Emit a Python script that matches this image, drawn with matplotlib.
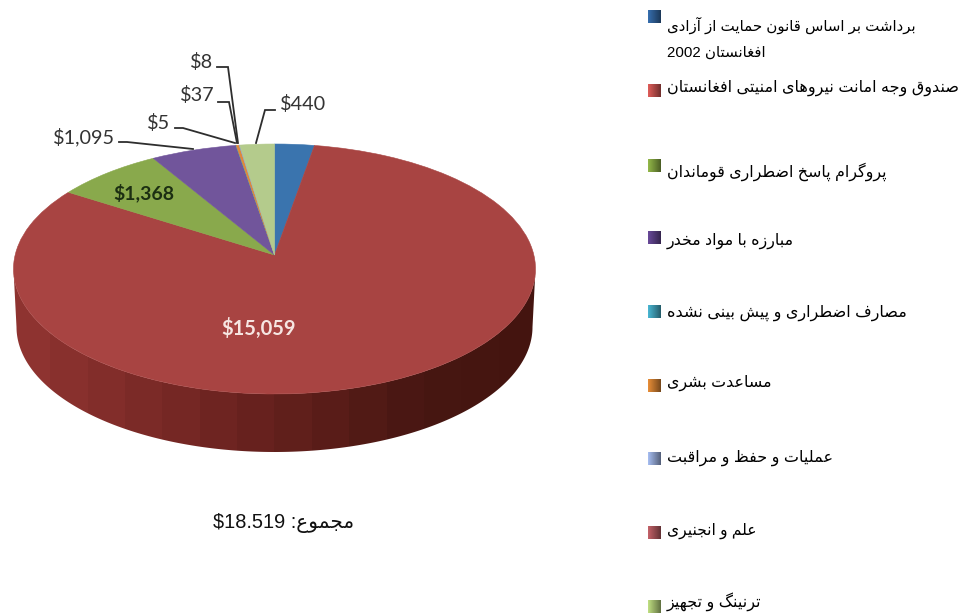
import numpy as np
import matplotlib
matplotlib.use("Agg")
import matplotlib.pyplot as plt
from matplotlib.patches import Polygon
from matplotlib.transforms import Transform, Affine2D

# pie values, clockwise from the top (the blue slice has no label in the picture)
slice_values = [507, 15059, 1368, 1095, 5, 37, 8, 440]
slice_colors = ["#3a74ae", "#a84442", "#89a94c", "#71559b", "#3f9db5", "#e0883a", "#8fa3cf", "#b4cb8c"]

legend_labels = [
    ["برداشت بر اساس قانون حمایت از آزادی", "افغانستان 2002"],
    ["صندوق وجه امانت نیروهای امنیتی افغانستان"],
    ["پروگرام پاسخ اضطراری قوماندان"],
    ["مبارزه با مواد مخدر"],
    ["مصارف اضطراری و پیش بینی نشده"],
    ["مساعدت بشری"],
    ["عملیات و حفظ و مراقبت"],
    ["علم و انجنیری"],
    ["ترنینگ و تجهیز"],
]
legend_colors = ["#2f5f96", "#c0504d", "#7f9f3f", "#5a3f84", "#3f9db5", "#c87a30", "#8fa3cf", "#a8545a", "#a5c070"]
total_word = "مجموع"
total_value = "$18.519"

# matplotlib does no arabic shaping, so pick the presentation forms by hand
# letter: (isolated, final, initial, medial), only two forms = no join to the left
FORMS = {
    "آ": (0xFE81, 0xFE82), "ا": (0xFE8D, 0xFE8E), "د": (0xFEA9, 0xFEAA), "ر": (0xFEAD, 0xFEAE),
    "ز": (0xFEAF, 0xFEB0), "و": (0xFEED, 0xFEEE),
    "ی": (0xFBFC, 0xFBFD, 0xFBFE, 0xFBFF), "پ": (0xFB56, 0xFB57, 0xFB58, 0xFB59),
    "گ": (0xFB92, 0xFB93, 0xFB94, 0xFB95),
}
for ch, start in zip("بتجحخسشصضطظعغفقلمنه",
                     [0xFE8F, 0xFE95, 0xFE9D, 0xFEA1, 0xFEA5, 0xFEB1, 0xFEB5, 0xFEB9, 0xFEBD, 0xFEC1,
                      0xFEC5, 0xFEC9, 0xFECD, 0xFED1, 0xFED5, 0xFEDD, 0xFEE1, 0xFEE5, 0xFEE9]):
    FORMS[ch] = (start, start + 1, start + 2, start + 3)


def shape_word(word):
    out = ""
    for i, ch in enumerate(word):
        if ch not in FORMS:
            out += ch
            continue
        f = FORMS[ch]
        prev_joins = i > 0 and word[i - 1] in FORMS and len(FORMS[word[i - 1]]) == 4
        next_joins = i < len(word) - 1 and word[i + 1] in FORMS and len(f) == 4
        if prev_joins and next_joins:
            out += chr(f[3])
        elif prev_joins:
            out += chr(f[1])
        elif next_joins:
            out += chr(f[2])
        else:
            out += chr(f[0])
    return out[::-1]


def shape(text):
    # words run right to left, latin digits stay as they are
    parts = [w if w.isdigit() else shape_word(w) for w in text.split(" ")]
    return " ".join(parts[::-1])


class Tilt(Transform):
    # perspective of the pie top: keeps the unit circle, moves its centre up
    input_dims = output_dims = 2
    d = 0.112

    def transform_non_affine(self, xy):
        u, v = np.asarray(xy).T
        w = 1 + self.d * v
        return np.column_stack([u * np.sqrt(1 - self.d ** 2) / w, (v + self.d) / w])


fig = plt.figure(figsize=(9.7, 6.13), dpi=100)
ax = fig.add_axes([0, 0, 1, 1])

wedges, _ = ax.pie(slice_values, colors=slice_colors, startangle=90, counterclock=False)
ax.set_aspect("auto")
ax.set_xlim(0, 970)
ax.set_ylim(613, 0)
ax.axis("off")

cx, cy, a, b = 274.5, 269, 261, 125
to_px = Tilt() + Affine2D().scale(a, -b).translate(cx, cy) + ax.transData
for w in wedges:
    w.set_transform(to_px)
    w.set_edgecolor(w.get_facecolor())
    w.set_linewidth(0.4)
    w.set_zorder(3)

# side wall of the pie
t = np.linspace(0, np.pi, 200)
top_edge = np.column_stack([cx + a * np.cos(t), cy + b * np.sin(t)])
low_edge = np.column_stack([cx + (a - 3) * np.cos(t), cy + 58 + b * np.sin(t)])
wall = Polygon(np.vstack([top_edge, low_edge[::-1]]), closed=True, facecolor="none", edgecolor="none",
               transform=ax.transData)
ax.add_patch(wall)
bands = np.linspace(0, 1, 14)
grad = np.column_stack([np.interp(bands, [0, 0.4, 0.8, 1], [c0, c1, c2, c3])
                        for c0, c1, c2, c3 in zip((0.56, 0.20, 0.19), (0.43, 0.14, 0.13),
                                                  (0.28, 0.09, 0.07), (0.27, 0.08, 0.06))])
im = ax.imshow(grad[np.newaxis, :, :], extent=[13, 536, 455, 260], aspect="auto", interpolation="nearest", zorder=2)
im.set_clip_path(wall)

# slice labels and leader lines
label_font = "Lato"
labels = [("$8", 202, 62), ("$37", 197, 95), ("$5", 159, 123), ("$1,095", 84, 137), ("$440", 303, 104)]
leaders = [
    ([217, 228, 238], [67, 67, 143]),
    ([218, 229, 237], [102, 102, 143]),
    ([175, 183, 235], [128, 128, 143]),
    ([119, 127, 193], [142, 142, 149]),
    ([275, 265, 256], [110, 110, 143]),
]
for txt, x, y in labels:
    ax.text(x, y, txt, ha="center", va="center", fontsize=14.3, family=label_font, color="#333333", zorder=5)
for xs, ys in leaders:
    ax.plot(xs, ys, color="#2e2e2e", lw=1.3, solid_joinstyle="miter", zorder=4)
ax.text(144, 193, "$1,368", ha="center", va="center", fontsize=14, family=label_font, color="#1c2f12",
        fontweight="bold", zorder=5)
ax.text(259, 328, "$15,059", ha="center", va="center", fontsize=14.5, family=label_font, color="#f6e6e2",
        fontweight="bold", zorder=5)

ax.text(213, 523, total_value + " :" + shape(total_word), ha="left", va="center", fontsize=14.4,
        family=["Liberation Sans", "DejaVu Sans"], color="#111111")

# legend, each swatch is a small gradient
swatch_y = [17, 91, 166, 238, 312, 386, 459, 533, 607]
text_y = [[25, 53], [88], [172], [241], [313], [383], [458], [531], [602]]
text_size = [10.8, 11.5, 11.4, 11.4, 11.5, 11.4, 11.5, 11.2, 11.5]
for lines, col, sy, ys, fs in zip(legend_labels, legend_colors, swatch_y, text_y, text_size):
    rgb = np.array(matplotlib.colors.to_rgb(col))
    shade = np.linspace(1.15, 0.6, 12)[np.newaxis, :, np.newaxis]
    ax.imshow(np.clip(rgb[np.newaxis, np.newaxis, :] * shade, 0, 1), extent=[648, 661, sy + 6.5, sy - 6.5],
              aspect="auto", zorder=2)
    for line, y in zip(lines, ys):
        ax.text(667, y, shape(line), ha="left", va="center", fontsize=fs,
                family=["Liberation Sans", "DejaVu Sans"], color="#000000")

ax.set_xlim(0, 970)
ax.set_ylim(613, 0)
fig.savefig("out.png", dpi=100)
